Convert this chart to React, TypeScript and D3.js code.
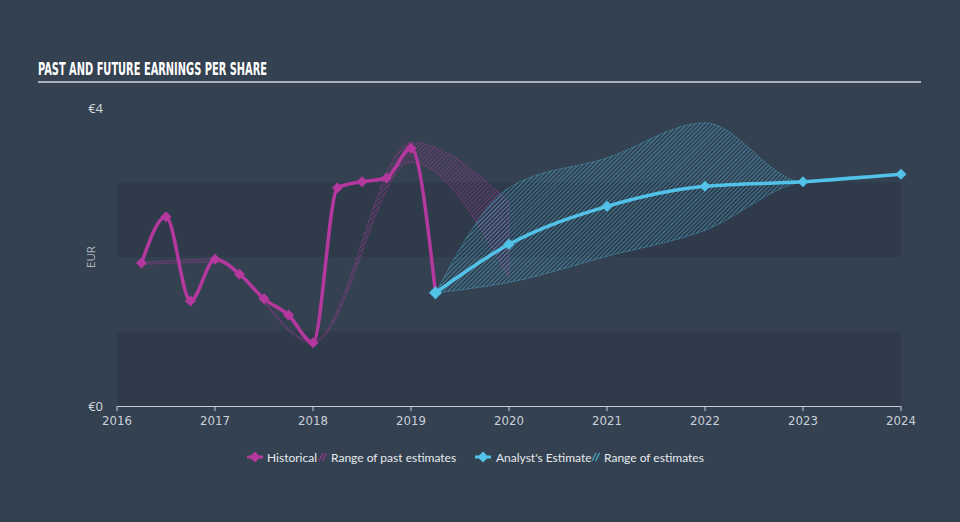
import React from "react";
import * as d3 from "d3";

const W = 960;
const H = 522;

const X_TICKS = [2016, 2017, 2018, 2019, 2020, 2021, 2022, 2023, 2024];
const Y_TICKS = [0, 4];

const histDates = [2016.25, 2016.5, 2016.75, 2017, 2017.25, 2017.5, 2017.75, 2018, 2018.25, 2018.5, 2018.75, 2019, 2019.25];
const histValues = [1.92, 2.54, 1.41, 1.97, 1.77, 1.44, 1.22, 0.85, 2.93, 3.01, 3.06, 3.46, 1.52];

const pastRangeDates = [2016.25, 2017, 2018, 2019, 2020];
const pastRangeLow = [1.9, 1.93, 0.84, 3.27, 1.72];
const pastRangeHigh = [1.93, 1.97, 0.87, 3.54, 2.74];

const estDates = [2019.25, 2020, 2021, 2022, 2023, 2024];
const estValues = [1.52, 2.17, 2.68, 2.95, 3.01, 3.11];
const estLow = [1.52, 1.66, 2.01, 2.36, 3.01, 3.11];
const estHigh = [1.52, 2.93, 3.33, 3.8, 3.01, 3.11];

const BANDS = [0, 2]; // darker bands start values (each 1 unit tall)

const MAGENTA = "#b5389e";
const CYAN = "#52c2e8";
const BG = "#344151";
const BAND = "#2f3b4a";

export default function App() {
  const x = d3.scaleLinear().domain([2016, 2024]).range([117, 901]);
  const y = d3.scaleLinear().domain([0, 4]).range([406, 108]);

  const line = d3
    .line<[number, number]>()
    .x((d) => x(d[0]))
    .y((d) => y(d[1]))
    .curve(d3.curveMonotoneX);

  const area = d3
    .area<[number, number, number]>()
    .x((d) => x(d[0]))
    .y0((d) => y(d[1]))
    .y1((d) => y(d[2]))
    .curve(d3.curveMonotoneX);

  const histPts = histDates.map((d, i) => [d, histValues[i]] as [number, number]);
  const estPts = estDates.map((d, i) => [d, estValues[i]] as [number, number]);
  const pastArea = pastRangeDates.map((d, i) => [d, pastRangeLow[i], pastRangeHigh[i]] as [number, number, number]);
  const estArea = estDates.map((d, i) => [d, estLow[i], estHigh[i]] as [number, number, number]);

  const diamond = (cx: number, cy: number, r: number) =>
    `M${cx},${cy - r}L${cx + r},${cy}L${cx},${cy + r}L${cx - r},${cy}Z`;

  return (
    <svg
      width={W}
      height={H}
      style={{ position: "absolute", left: 0, top: 0, display: "block" }}
    >
      <defs>
        <pattern id="hatchM" width="3" height="3" patternUnits="userSpaceOnUse" patternTransform="rotate(45)">
          <line x1="0" y1="0" x2="0" y2="3" stroke={MAGENTA} strokeWidth="1.5" />
        </pattern>
        <pattern id="hatchC" width="3" height="3" patternUnits="userSpaceOnUse" patternTransform="rotate(45)">
          <line x1="0" y1="0" x2="0" y2="3" stroke={CYAN} strokeWidth="1.5" />
        </pattern>
      </defs>
      <rect x={0} y={0} width={W} height={H} fill={BG} />

      {/* title */}
      <text
        x={38}
        y={74.5}
        fill="#ffffff"
        fontFamily="'Liberation Sans Narrow', 'DejaVu Sans Condensed', sans-serif"
        fontWeight="bold"
        fontSize={17}
        textLength={229}
        lengthAdjust="spacingAndGlyphs"
      >
        PAST AND FUTURE EARNINGS PER SHARE
      </text>
      <line x1={38} x2={921} y1={82} y2={82} stroke="#aab1ba" strokeWidth={2} />

      {/* bands */}
      {BANDS.map((b) => (
        <rect key={b} x={x(2016)} width={x(2024) - x(2016)} y={y(b + 1)} height={y(b) - y(b + 1)} fill={BAND} />
      ))}

      {/* y labels */}
      {Y_TICKS.map((t) => (
        <text
          key={t}
          x={103}
          y={y(t) + 4.5}
          textAnchor="end"
          fill="#d3d8de"
          fontFamily="'Open Sans', sans-serif"
          fontSize={13}
        >
          {"€" + t}
        </text>
      ))}
      <text
        transform={`translate(95,${y(2)}) rotate(-90)`}
        textAnchor="middle"
        fill="#aeb6c0"
        fontFamily="'Open Sans', sans-serif"
        fontSize={11.5}
      >
        EUR
      </text>

      {/* ranges */}
      <path d={area(pastArea) || ""} fill="url(#hatchM)" opacity={0.6} stroke={MAGENTA} strokeWidth={0.8} strokeDasharray="2,1" />
      <path d={area(estArea) || ""} fill="url(#hatchC)" opacity={0.65} stroke={CYAN} strokeWidth={0.8} strokeDasharray="2,1" />

      {/* x axis */}
      <line x1={x(2016)} x2={x(2024)} y1={406.5} y2={406.5} stroke="#c4ccd5" strokeWidth={1} />
      {X_TICKS.map((t) => (
        <g key={t}>
          <line x1={x(t)} x2={x(t)} y1={406} y2={411} stroke="#c4ccd5" strokeWidth={1} />
          <text
            x={x(t)}
            y={425}
            textAnchor="middle"
            fill="#c9d0d8"
            fontFamily="'Liberation Sans Narrow', 'DejaVu Sans Condensed', sans-serif"
            fontSize={13}
          >
            {t}
          </text>
        </g>
      ))}

      {/* historical line */}
      <path d={line(histPts) || ""} fill="none" stroke={MAGENTA} strokeWidth={3.5} strokeLinejoin="round" />
      {histPts.slice(0, -1).map((p, i) => (
        <path key={i} d={diamond(x(p[0]), y(p[1]), 5.5)} fill={MAGENTA} />
      ))}

      {/* estimate line */}
      <path d={line(estPts) || ""} fill="none" stroke={CYAN} strokeWidth={3.5} strokeLinejoin="round" />
      {estPts.map((p, i) => (
        <path key={i} d={diamond(x(p[0]), y(p[1]), i === 0 ? 6.5 : 5.5)} fill={CYAN} />
      ))}

      {/* legend */}
      <g fontFamily="Lato, 'Open Sans', sans-serif" fontSize={12} fill="#e6eaee">
        <line x1={247} x2={263} y1={457} y2={457} stroke={MAGENTA} strokeWidth={3} />
        <path d={diamond(255, 457, 5.5)} fill={MAGENTA} />
        <text x={267} y={461.5}>Historical</text>
        <g stroke={MAGENTA} strokeWidth={1.2} opacity={0.8}>
          <line x1={319} y1={461} x2={323} y2={453} />
          <line x1={322.5} y1={461} x2={326.5} y2={453} />
        </g>
        <text x={331} y={461.5}>Range of past estimates</text>

        <line x1={475} x2={491} y1={457} y2={457} stroke={CYAN} strokeWidth={3} />
        <path d={diamond(483, 457, 5.5)} fill={CYAN} />
        <text x={496} y={461.5}>Analyst's Estimate</text>
        <g stroke={CYAN} strokeWidth={1.2} opacity={0.8}>
          <line x1={592} y1={461} x2={596} y2={453} />
          <line x1={595.5} y1={461} x2={599.5} y2={453} />
        </g>
        <text x={604} y={461.5}>Range of estimates</text>
      </g>
    </svg>
  );
}
